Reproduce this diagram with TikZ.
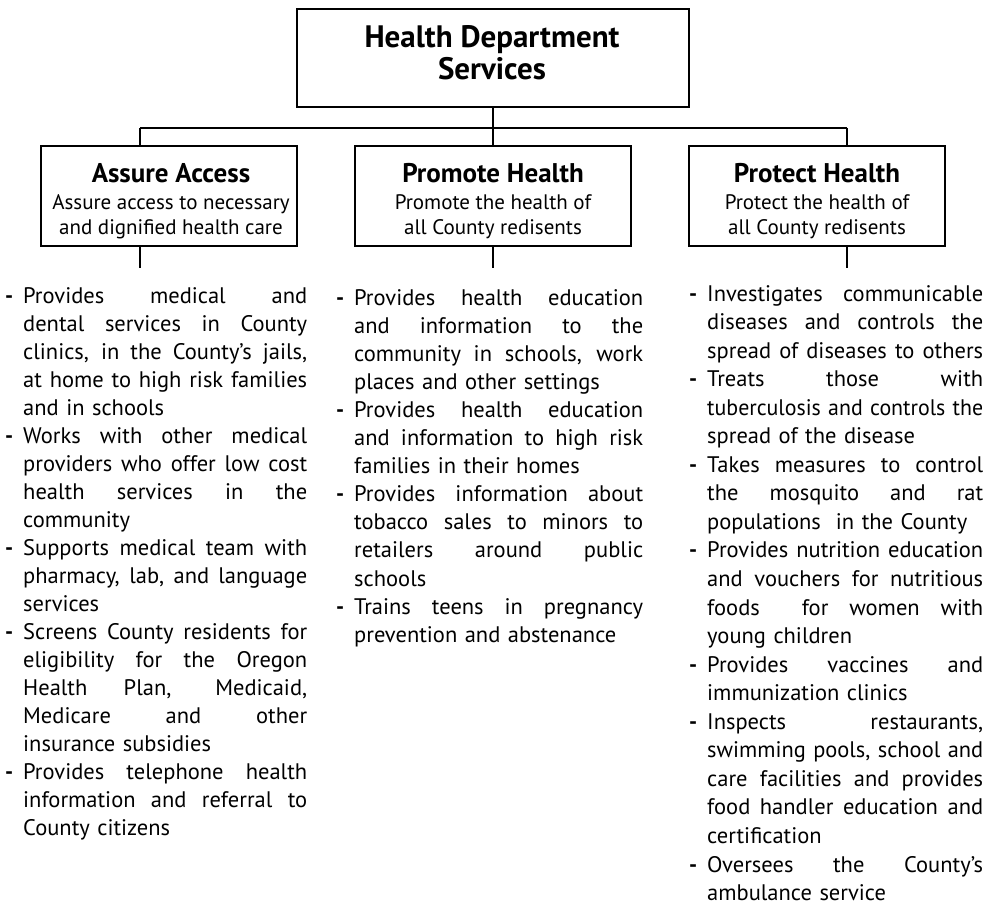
\documentclass[tikz,border=0pt]{standalone}
\usepackage{fontspec}
\usepackage{graphicx}
\setmainfont{PT Sans}
\newsavebox\jbox
\newlength\colw
\newcommand\J[1]{\sbox\jbox{#1}\ifdim\wd\jbox>\colw\resizebox{\colw}{\height}{#1}\else{\spaceskip=\fontdimen2\font plus 1fil\xspaceskip=\fontdimen2\font plus 1fil\makebox[\colw][s]{#1}}\fi}
\newcommand\D{\leavevmode\llap{\textbf{-}\hspace{10pt}}}
\tikzset{
  box/.style={draw, line width=1.5pt, inner sep=0pt},
  topbox/.style={box, minimum width=392pt, minimum height=98pt},
  subbox/.style={box, minimum width=256pt, minimum height=100pt},
  toptext/.style={anchor=base, align=center, inner sep=0pt, font=\fontsize{31}{32}\selectfont\bfseries},
  subtext/.style={anchor=base, align=center, inner sep=0pt, font=\fontsize{21}{25.5}\selectfont},
  conn/.style={line width=1.5pt},
  col/.style={anchor=base west, inner sep=0pt, text width=#1, execute at begin node={\setlength\colw{#1}}},
}
\newcommand\ttl[1]{{\fontsize{27}{27}\selectfont\bfseries #1}\\[1pt]}
\begin{document}
\begin{tikzpicture}[x=1pt,y=-1pt]
\useasboundingbox (0,0) rectangle (1000,909);
\node[topbox] (top) at (493,58) {};
\node[toptext] (topt) at (492,80) {Health Department\\Services};
\node[subbox] (aa) at (169,196) {};
\node[subtext] (aat) at (171,235) {\ttl{Assure Access}Assure access to necessary\\and dignified health care};
\node[subbox, minimum width=276pt] (ph) at (493,196) {};
\node[subtext] (pht) at (493,235) {\ttl{Promote Health}Promote the health of\\all County redisents};
\node[subbox] (pr) at (817,196) {};
\node[subtext] (prt) at (817,235) {\ttl{Protect Health}Protect the health of\\all County redisents};
\coordinate (hl) at (140,128);
\coordinate (hm) at (493,128);
\coordinate (hr) at (847,128);
\coordinate (sl) at (140,268);
\coordinate (sm) at (493,268);
\coordinate (sr) at (847,268);
\draw[conn] (top.south) -- (hm);
\draw[conn] (hl) -- (hr);
\draw[conn] (hl) -- (hl |- aa.north);
\draw[conn] (hm) -- (ph.north);
\draw[conn] (hr) -- (hr |- pr.north);
\draw[conn] (sl |- aa.south) -- (sl);
\draw[conn] (ph.south) -- (sm);
\draw[conn] (sr |- pr.south) -- (sr);
\node[col=284pt, font=\fontsize{22.5}{28}\selectfont] (c1) at (23,303) {%
\D\J{Provides medical and}\\
\J{dental services in County}\\
\J{clinics, in the County’s jails,}\\
\J{at home to high risk families}\\
and in schools\\
\D\J{Works with other medical}\\
\J{providers who offer low cost}\\
\J{health services in the}\\
community\\
\D\J{Supports medical team with}\\
\J{pharmacy, lab, and language}\\
services\\
\D\J{Screens County residents for}\\
\J{eligibility for the Oregon}\\
\J{Health Plan, Medicaid,}\\
\J{Medicare and other}\\
insurance subsidies\\
\D\J{Provides telephone health}\\
\J{information and referral to}\\
County citizens};
\node[col=289pt, font=\fontsize{22.5}{28.1}\selectfont] (c2) at (354,305) {%
\D\J{Provides health education}\\
\J{and information to the}\\
\J{community in schools, work}\\
places and other settings\\
\D\J{Provides health education}\\
\J{and information to high risk}\\
families in their homes\\
\D\J{Provides information about}\\
\J{tobacco sales to minors to}\\
\J{retailers around public}\\
schools\\
\D\J{Trains teens in pregnancy}\\
prevention and abstenance};
\node[col=276pt, font=\fontsize{22.5}{28.55}\selectfont] (c3) at (707,301) {%
\D\J{Investigates communicable}\\
\J{diseases and controls the}\\
\J{spread of diseases to others}\\
\D\J{Treats those with}\\
\J{tuberculosis and controls the}\\
spread of the disease\\
\D\J{Takes measures to control}\\
\J{the mosquito and rat}\\
populations\ \ in the County\\
\D\J{Provides nutrition education}\\
\J{and vouchers for nutritious}\\
\J{foods\ \ for women with}\\
young children\\
\D\J{Provides vaccines and}\\
immunization clinics\\
\D\J{Inspects restaurants,}\\
\J{swimming pools, school and}\\
\J{care facilities and provides}\\
\J{food handler education and}\\
certification\\
\D\J{Oversees the County’s}\\
ambulance service};
\end{tikzpicture}
\end{document}
